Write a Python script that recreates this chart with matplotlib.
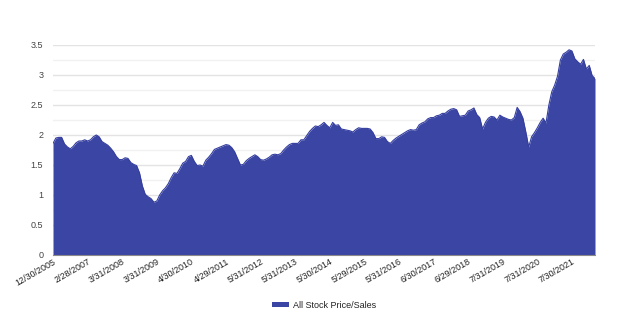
import matplotlib
matplotlib.use('Agg')
import matplotlib.pyplot as plt
from matplotlib.ticker import MultipleLocator, FixedLocator, FuncFormatter
import numpy as np

# Price/sales ratio for all stocks, month-end readings
price_sales = [
    1.86, 1.95, 1.96, 1.96, 1.85, 1.80, 1.77, 1.81, 1.87, 1.90,
    1.90, 1.92, 1.90, 1.92, 1.97, 2.00, 1.97, 1.89, 1.86, 1.83,
    1.78, 1.72, 1.64, 1.59, 1.59, 1.62, 1.61, 1.54, 1.51, 1.49,
    1.37, 1.15, 1.01, 0.97, 0.94, 0.88, 0.90, 1.00, 1.07, 1.12,
    1.19, 1.29, 1.37, 1.36, 1.44, 1.53, 1.56, 1.64, 1.66, 1.56,
    1.49, 1.50, 1.48, 1.58, 1.63, 1.69, 1.76, 1.78, 1.80, 1.82,
    1.84, 1.83, 1.79, 1.72, 1.61, 1.50, 1.51, 1.57, 1.61, 1.64,
    1.67, 1.64, 1.59, 1.58, 1.60, 1.63, 1.67, 1.68, 1.67, 1.69,
    1.75, 1.80, 1.84, 1.86, 1.86, 1.86, 1.92, 1.92, 1.99, 2.06,
    2.11, 2.15, 2.14, 2.17, 2.21, 2.16, 2.12, 2.21, 2.16, 2.17,
    2.10, 2.09, 2.08, 2.07, 2.05, 2.09, 2.12, 2.11, 2.11, 2.11,
    2.10, 2.04, 1.94, 1.94, 1.97, 1.96, 1.89, 1.86, 1.91, 1.95,
    1.98, 2.01, 2.04, 2.07, 2.09, 2.08, 2.09, 2.17, 2.20, 2.22,
    2.27, 2.29, 2.29, 2.32, 2.33, 2.36, 2.36, 2.40, 2.43, 2.44,
    2.42, 2.31, 2.32, 2.33, 2.40, 2.42, 2.45, 2.34, 2.29, 2.10,
    2.21, 2.28, 2.31, 2.30, 2.25, 2.33, 2.30, 2.28, 2.26, 2.25,
    2.29, 2.46, 2.39, 2.28, 2.05, 1.80, 1.97, 2.04, 2.12, 2.21,
    2.28, 2.20, 2.50, 2.72, 2.83, 2.98, 3.25, 3.35, 3.38, 3.42,
    3.40, 3.27, 3.22, 3.18, 3.26, 3.10, 3.16, 2.99, 2.94,
]

# every 12th reading gets a date label
date_labels = [
    "12/30/2005", "2/28/2007", "3/31/2008", "3/31/2009", "4/30/2010",
    "4/29/2011", "5/31/2012", "5/31/2013", "5/30/2014", "5/29/2015",
    "5/31/2016", "6/30/2017", "6/29/2018", "7/31/2019", "7/31/2020",
    "7/30/2021",
]
label_step = 12

plt.rcParams['font.family'] = ['Liberation Sans', 'DejaVu Sans']

fig = plt.figure(figsize=(6.4, 3.25), dpi=100)
ax = fig.add_axes([53 / 640, 1 - 255 / 325, 542 / 640, 210 / 325])

x = np.arange(len(price_sales))
y = np.array(price_sales)
ax.fill_between(x, 0, y, color='#3b45a4', linewidth=0, label='All Stock Price/Sales', zorder=3)
ax.plot(x, y, color='#343e9e', linewidth=0.8, zorder=4)

ax.set_xlim(0, len(price_sales) - 1)
ax.set_ylim(0, 3.5)

ax.yaxis.set_major_locator(MultipleLocator(0.5))
ax.yaxis.set_minor_locator(MultipleLocator(0.25))
ax.yaxis.set_major_formatter(FuncFormatter(lambda v, _: f"{v:g}"))
ax.grid(which='major', axis='y', color='#e3e3e3', linewidth=1.0, zorder=0)
ax.grid(which='minor', axis='y', color='#f1f1f1', linewidth=1.0, zorder=0)

tick_pos = [i * label_step for i in range(len(date_labels))]
ax.xaxis.set_major_locator(FixedLocator(tick_pos))
ax.set_xticklabels(date_labels, rotation=30, ha='right', rotation_mode='anchor')

ax.tick_params(axis='y', which='both', length=0, pad=7, labelsize=6.5, labelcolor='#444444')
ax.tick_params(axis='x', length=0, pad=1.5, labelsize=6.5, labelcolor='#222222')

for side in ['top', 'right', 'left']:
    ax.spines[side].set_visible(False)
ax.spines['bottom'].set_color('#8a8a8a')
ax.spines['bottom'].set_linewidth(0.8)
ax.spines['bottom'].set_zorder(5)

fig.legend(loc='center', bbox_to_anchor=(324 / 640, 1 - 305 / 325), frameon=False,
           fontsize=6.5, handlelength=1.95, handleheight=0.55, handletextpad=0.4,
           labelcolor='#222222')

fig.savefig('out.png', dpi=100, facecolor='white')
